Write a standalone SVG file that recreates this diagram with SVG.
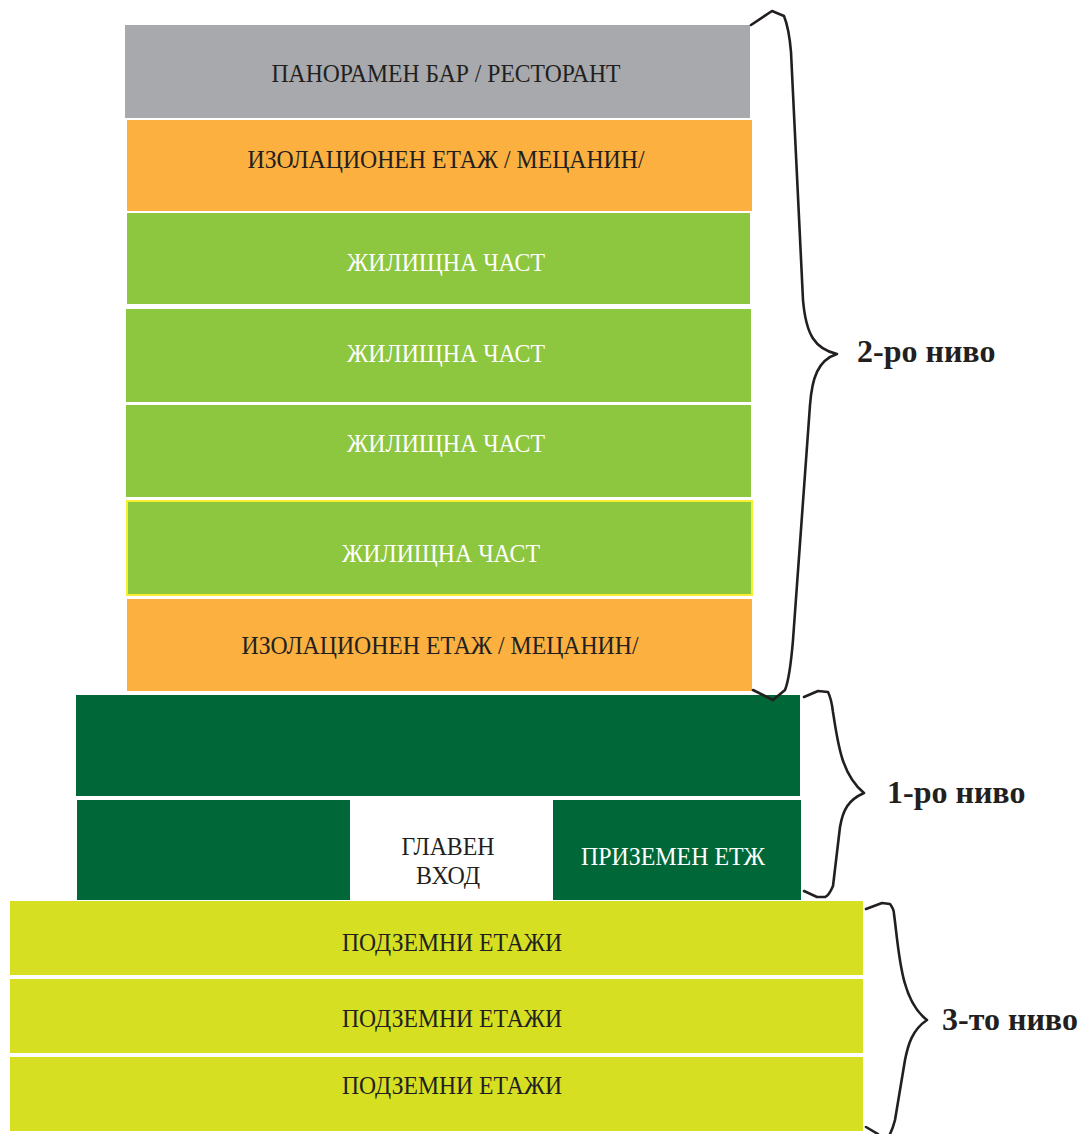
<svg xmlns="http://www.w3.org/2000/svg" width="1080" height="1134" viewBox="0 0 1080 1134">
<style>
.t{font-family:"Liberation Serif","Times New Roman",serif;font-size:26px;text-anchor:middle}
.dk{fill:#231f20}
.wh{fill:#ffffff}
.lvl{font-family:"Liberation Serif","Times New Roman",serif;font-size:32px;font-weight:bold;fill:#231f20}
.br{fill:none;stroke:#231f20;stroke-width:2.6;stroke-linejoin:round;stroke-linecap:round}
</style>
<rect width="1080" height="1134" fill="#ffffff"/>
<g id="bar"><rect x="125" y="25" width="625" height="93" fill="#a7a9ac"/><text class="t dk" x="446" y="82" textLength="349" lengthAdjust="spacingAndGlyphs">ПАНОРАМЕН БАР / РЕСТОРАНТ</text></g>
<g id="iso1"><rect x="127" y="120" width="625" height="91" fill="#fbb040"/><text class="t dk" x="446" y="168" textLength="397" lengthAdjust="spacingAndGlyphs">ИЗОЛАЦИОНЕН ЕТАЖ / МЕЦАНИН/</text></g>
<g id="res1"><rect x="127" y="213" width="623" height="91" fill="#8dc63f"/><text class="t wh" x="446" y="271" textLength="198" lengthAdjust="spacingAndGlyphs">ЖИЛИЩНА ЧАСТ</text></g>
<g id="res2"><rect x="126" y="309" width="625" height="93" fill="#8dc63f"/><text class="t wh" x="446" y="362" textLength="198" lengthAdjust="spacingAndGlyphs">ЖИЛИЩНА ЧАСТ</text></g>
<g id="res3"><rect x="126" y="405" width="625" height="92" fill="#8dc63f"/><text class="t wh" x="446" y="452" textLength="198" lengthAdjust="spacingAndGlyphs">ЖИЛИЩНА ЧАСТ</text></g>
<g id="res4"><rect x="127" y="501" width="625" height="94" fill="#8dc63f" stroke="#f9ed32" stroke-width="2"/><text class="t wh" x="441" y="562" textLength="198" lengthAdjust="spacingAndGlyphs">ЖИЛИЩНА ЧАСТ</text></g>
<g id="iso2"><rect x="127" y="599" width="625" height="92" fill="#fbb040"/><text class="t dk" x="440" y="654" textLength="397" lengthAdjust="spacingAndGlyphs">ИЗОЛАЦИОНЕН ЕТАЖ / МЕЦАНИН/</text></g>
<g id="podium"><rect x="76" y="695" width="724" height="101" fill="#006838"/></g>
<g id="ground-left"><rect x="77" y="800" width="273" height="100" fill="#006838"/></g>
<g id="entrance"><text class="t dk" x="448" y="855" textLength="93" lengthAdjust="spacingAndGlyphs">ГЛАВЕН</text><text class="t dk" x="448" y="884" textLength="64" lengthAdjust="spacingAndGlyphs">ВХОД</text></g>
<g id="ground-right"><rect x="553" y="800" width="248" height="100" fill="#006838"/><text class="t wh" x="673" y="865" textLength="184" lengthAdjust="spacingAndGlyphs">ПРИЗЕМЕН ЕТЖ</text></g>
<g id="base1"><rect x="10" y="901" width="853" height="74" fill="#d7df23"/><text class="t dk" x="452" y="951" textLength="220" lengthAdjust="spacingAndGlyphs">ПОДЗЕМНИ ЕТАЖИ</text></g>
<g id="base2"><rect x="10" y="979" width="853" height="74" fill="#d7df23"/><text class="t dk" x="452" y="1027" textLength="220" lengthAdjust="spacingAndGlyphs">ПОДЗЕМНИ ЕТАЖИ</text></g>
<g id="base3"><rect x="10" y="1057" width="853" height="74" fill="#d7df23"/><text class="t dk" x="452" y="1094" textLength="220" lengthAdjust="spacingAndGlyphs">ПОДЗЕМНИ ЕТАЖИ</text></g>
<g id="connectors">
<path class="br" d="M751,25 L772,11 L784,16 C788,26 790,40 791,52 L803,300 C806,335 815,349 837,354 C818,360 812,378 810,405 L793,640 C791,664 789,680 785,690 L773,700 L753,690"/>
<path class="br" d="M804,697 L818,691 L828,692 C831,698 832,704 833,712 C838,745 842,775 864,793 C848,800 843,810 840,827 L833,886 C830,893 828,896 825,897 L817,897 L804,891"/>
<path class="br" d="M866,909 L882,903 L890,904 C893,908 894,910 894,914 C899,950 900,1000 927,1020 C912,1030 908,1045 905,1060 L895,1120 C893,1128 891,1132 890,1134"/>
<path class="br" d="M866,1127 L878,1134"/>
</g>
<g id="labels">
<text class="lvl" x="857" y="362">2-ро ниво</text>
<text class="lvl" x="887" y="803">1-ро ниво</text>
<text class="lvl" x="942" y="1030">3-то ниво</text>
</g>
</svg>
